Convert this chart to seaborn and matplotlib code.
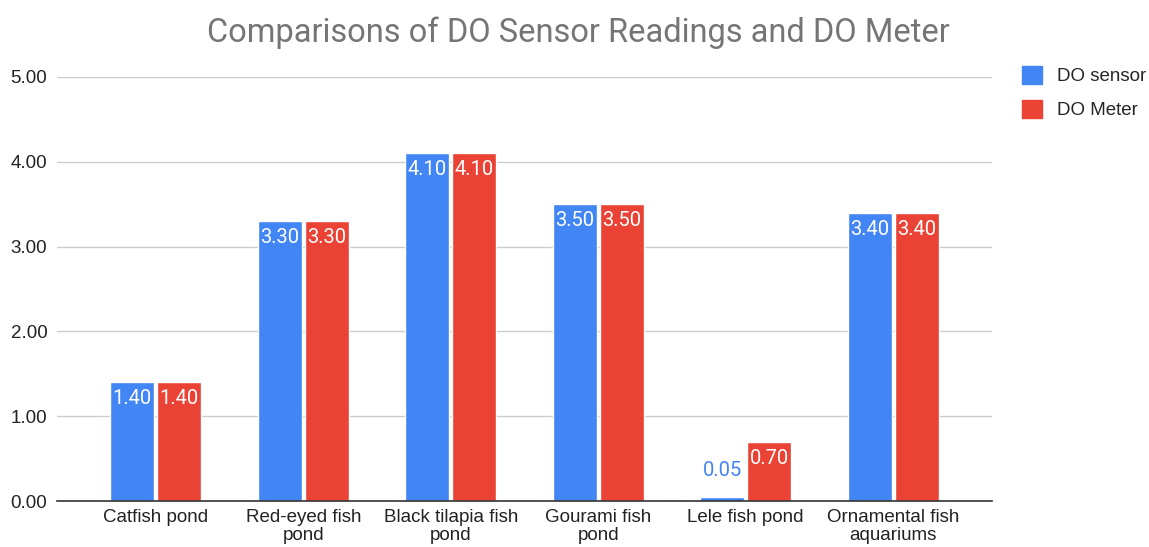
import matplotlib
matplotlib.use("Agg")
import matplotlib.pyplot as plt
from matplotlib.patches import Patch
import pandas as pd
import seaborn as sns

categories = ["Catfish pond", "Red-eyed fish\npond", "Black tilapia fish\npond",
              "Gourami fish\npond", "Lele fish pond", "Ornamental fish\naquariums"]
do_sensor = [1.40, 3.30, 4.10, 3.50, 0.05, 3.40]
do_meter = [1.40, 3.30, 4.10, 3.50, 0.70, 3.40]
series_names = ["DO sensor", "DO Meter"]
y_ticks = [0, 1, 2, 3, 4, 5]

colors = ["#4285F4", "#EA4335"]

df = pd.DataFrame({
    "category": categories * 2,
    "value": do_sensor + do_meter,
    "series": [series_names[0]] * len(categories) + [series_names[1]] * len(categories),
})

sns.set_theme(style="white")
plt.rcParams["font.family"] = ["Liberation Sans", "DejaVu Sans"]

fig = plt.figure(figsize=(11.49, 5.47), dpi=100)
ax = fig.add_axes([57 / 1149, 46 / 547, (992 - 57) / 1149, (501 - 77) / 547])

sns.barplot(data=df, x="category", y="value", hue="series", palette=colors,
            order=categories, hue_order=series_names, width=0.64, gap=0.07,
            saturation=1, legend=False, ax=ax, errorbar=None)

ax.set_xlim(-0.67, 5.67)
ax.set_ylim(0, 5)
ax.set_yticks(y_ticks)
ax.set_yticklabels([f"{t:.2f}" for t in y_ticks], fontsize=13.5, color="#222222")
ax.tick_params(axis="x", labelsize=13.5, colors="#222222", length=0, pad=6)
for lbl in ax.get_xticklabels():
    lbl.set_linespacing(1.05)
ax.tick_params(axis="y", length=0, pad=7)
ax.set_xlabel("")
ax.set_ylabel("")
ax.grid(axis="y", color="#cccccc", linewidth=1)
ax.set_axisbelow(True)
for side in ["top", "right", "left"]:
    ax.spines[side].set_visible(False)
ax.spines["bottom"].set_color("#333333")
ax.spines["bottom"].set_linewidth(1.2)

# value labels: inside the bar top in white, above short bars in the bar colour
for container, color in zip(ax.containers, colors):
    for bar in container:
        h = bar.get_height()
        cx = bar.get_x() + bar.get_width() / 2
        if h >= 0.5:
            ax.annotate(f"{h:.2f}", (cx, h), xytext=(0, -5), textcoords="offset points",
                        ha="center", va="top", color="white", fontsize=14.5,
                        family=["Roboto", "DejaVu Sans"])
        else:
            ax.annotate(f"{h:.2f}", (cx, h), xytext=(0, 12), textcoords="offset points",
                        ha="center", va="bottom", color=color, fontsize=14.5,
                        family=["Roboto", "DejaVu Sans"])

fig.text(578 / 1149, 1 - 33 / 547, "Comparisons of DO Sensor Readings and DO Meter",
         ha="center", va="center", fontsize=23.5, color="#757575",
         family=["Roboto", "DejaVu Sans"])

handles = [Patch(facecolor=c, edgecolor=c, label=n) for c, n in zip(colors, series_names)]
fig.legend(handles=handles, loc="upper left", bbox_to_anchor=(1022 / 1149, 1 - 66 / 547),
           frameon=False, fontsize=13.5, handlelength=1.07, handleheight=1.07,
           handletextpad=0.8, labelspacing=0.8, borderpad=0, borderaxespad=0)

fig.savefig("out.png", dpi=100)
